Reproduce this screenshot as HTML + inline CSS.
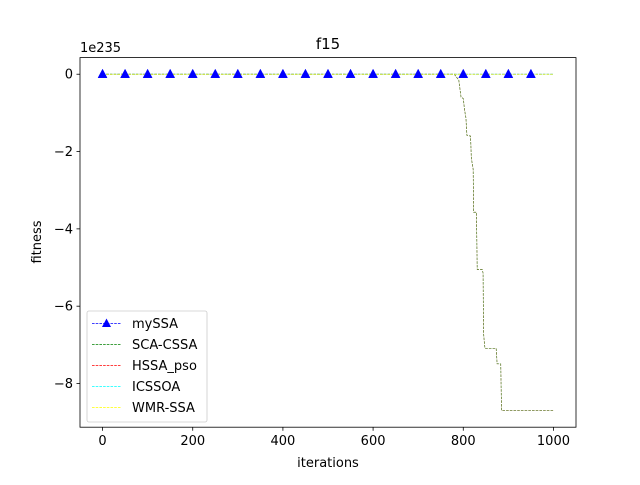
<!DOCTYPE html>
<html><head><meta charset="utf-8"><style>
body{margin:0;background:#fff;font-family:"Liberation Sans","DejaVu Sans",sans-serif}
svg text{font-family:"DejaVu Sans","Liberation Sans",sans-serif;font-size:13px;fill:#000}
</style></head><body>
<svg id="chart" width="640" height="480" xmlns="http://www.w3.org/2000/svg">
<rect width="640" height="480" fill="#fff"/>
<g id="plot"></g>
<rect x="80" y="57.6" width="496" height="369.6" fill="none" stroke="#000" stroke-width="0.8"/>
<g id="ticks"></g>
<text x="328" y="49" text-anchor="middle" style="font-size:15px">f15</text>
<text x="80" y="52">1e235</text>
<text x="328" y="467" text-anchor="middle">iterations</text>
<text x="41" y="242" text-anchor="middle" transform="rotate(-90 41 242)">fitness</text>
<g id="legend"></g>
</svg>
<script>
const stepIters=[0,780,790,795,800,803,806,808,816,818,822,823,829,831,842,844,845,848,873,875,883,885,1000];
const stepVals=[0,0,-0.15,-0.59,-0.63,-0.93,-1.14,-1.58,-1.60,-2.18,-2.46,-3.57,-3.57,-5.05,-5.05,-5.15,-6.71,-7.09,-7.09,-7.49,-7.49,-8.70,-8.70];
const flatIters=[0,1000];
const flatVals=[0,0];
const markerIters=[0,50,100,150,200,250,300,350,400,450,500,550,600,650,700,750,800,850,900,950];
const xTicks=[0,200,400,600,800,1000];
const yTicks=[0,-2,-4,-6,-8];
const seriesNames=["mySSA","SCA-CSSA","HSSA_pso","ICSSOA","WMR-SSA"];
const seriesColors=["#0000ff","#008000","#ff0000","#00ffff","#ffff00"];

const NS="http://www.w3.org/2000/svg";
const X=v=>80+(v+50)/1100*496;
const Y=v=>57.6+(0.43-v)/(0.43+9.13)*369.6;
function mk(tag,attrs,parent){const e=document.createElementNS(NS,tag);for(const k in attrs)e.setAttribute(k,attrs[k]);parent.appendChild(e);return e;}
const plot=document.getElementById('plot');
function poly(xs,ys,color,name,dash,op){
  const p=mk('polyline',{points:xs.map((x,i)=>X(x)+','+Y(ys[i])).join(' '),fill:'none',stroke:color,'stroke-width':0.7,'stroke-dasharray':dash||'2.6,1.1','stroke-opacity':op||1},plot);
  
  
}
poly(flatIters,flatVals,seriesColors[0],'series-myssa-line');
poly(stepIters,stepVals,seriesColors[2],'series-hssa-pso-line','2.6,1.1',0.5);
poly(stepIters,stepVals,seriesColors[1],'series-sca-cssa-line','2.6,1.1',0.7);
poly(flatIters,flatVals,seriesColors[3],'series-icssoa-line');
poly(flatIters,flatVals,seriesColors[4],'series-wmr-ssa-line');
markerIters.forEach(it=>{
  const cx=X(it),cy=Y(0);
  const t=mk('polygon',{points:`${cx},${cy-5} ${cx-4.5},${cy+3.5} ${cx+4.5},${cy+3.5}`,fill:'#0000ff',stroke:'#0000ff','stroke-width':0.5},plot);
  
  
});
const ticks=document.getElementById('ticks');
xTicks.forEach(v=>{
  const x=X(v);
  mk('line',{x1:x,x2:x,y1:427.2,y2:430.7,stroke:'#000','stroke-width':0.8},ticks);
  const t=mk('text',{x:x,y:445,'text-anchor':'middle'},ticks);t.textContent=v;
  
  
});
yTicks.forEach(v=>{
  const y=Y(v);
  mk('line',{x1:76.5,x2:80,y1:y,y2:y,stroke:'#000','stroke-width':0.8},ticks);
  const t=mk('text',{x:73,y:y+4.5,'text-anchor':'end'},ticks);t.textContent=(v<0?'\u2212'+(-v):v);
  
  
});
const lg=document.getElementById('legend');
mk('rect',{x:87,y:311,width:120,height:111,rx:2,fill:'#fff','fill-opacity':0.8,stroke:'#ccc','stroke-width':0.8},lg);
seriesNames.forEach((n,i)=>{
  const y=323.5+i*21;
  const l=mk('line',{x1:92,x2:121,y1:y,y2:y,stroke:seriesColors[i],'stroke-width':0.7,'stroke-dasharray':'2.6,1.1'},lg);
  
  
  if(i===0){mk('polygon',{points:`106.5,${y-5} 102,${y+3.5} 111,${y+3.5}`,fill:'#0000ff'},lg);}
  const t=mk('text',{x:132,y:y+4.5},lg);t.textContent=n;
  
  
});
</script>
</body></html>
